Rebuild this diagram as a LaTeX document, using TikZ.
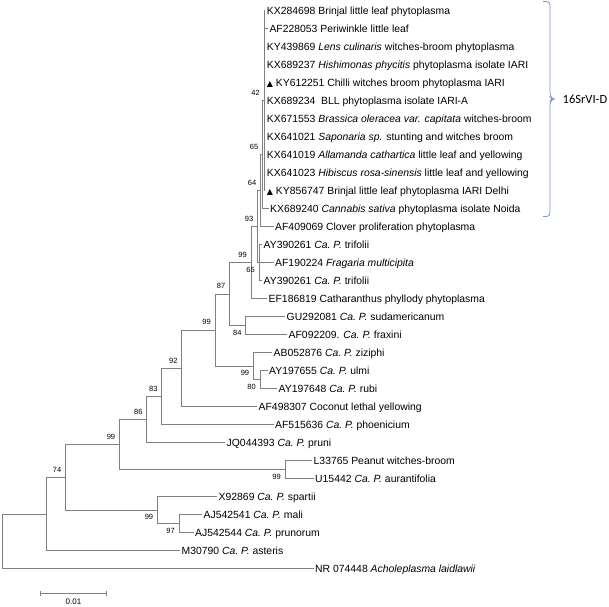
\documentclass[tikz,border=0pt]{standalone}
\usepackage{fontspec}
\setmainfont{Liberation Sans}
\newfontfamily\cladefont{Carlito}
\newfontfamily\symfont{DejaVu Sans}
\usepackage{tikz}
\usetikzlibrary{arrows.meta}
\definecolor{treegray}{RGB}{128,128,128}
\definecolor{cladeblue}{RGB}{122,150,200}
\newcommand{\leaffont}{\fontsize{10.4}{12}\selectfont}
\newcommand{\bootfont}{\fontsize{7.5}{9}\selectfont}
\newcommand{\tri}{{\symfont\fontsize{8}{9}\selectfont ▲}}
\newcommand{\caP}{\textit{Ca.\ P.}}

\begin{document}
\begin{tikzpicture}[x=1pt, y=-1pt,
    leaf/.style={anchor=west, inner xsep=1.5pt, inner ysep=0pt,
                 text height=7.4pt, text depth=0pt, font=\leaffont},
    br/.style={draw=treegray, line width=0.7pt},
    bsa/.style={anchor=south east, inner sep=0pt, xshift=-4pt, yshift=4.8pt, font=\bootfont},
    bsb/.style={anchor=north east, inner sep=0pt, xshift=-4pt, yshift=-4.3pt, font=\bootfont},
    clade/.style={draw=cladeblue, line width=0.8pt}
  ]
    \useasboundingbox (0,0) rectangle (609,606);

    \node[leaf] (l1)  at (265.2,10.5)  {KX284698 Brinjal little leaf phytoplasma};
    \node[leaf] (l2)  at (267.8,28.5)  {AF228053 Periwinkle little leaf};
    \node[leaf] (l3)  at (265.2,46.5)  {KY439869 \textit{Lens culinaris} witches-broom phytoplasma};
    \node[leaf] (l4)  at (265.2,64.5)  {KX689237 \textit{Hishimonas phycitis} phytoplasma isolate IARI};
    \node[leaf] (l5)  at (265.2,82.5)  {\tri\ KY612251 Chilli witches broom phytoplasma IARI};
    \node[leaf] (l6)  at (265.2,100.5) {KX689234\ \ BLL phytoplasma isolate IARI-A};
    \node[leaf] (l7)  at (265.2,118.5) {KX671553 \textit{Brassica oleracea var. capitata} witches-broom};
    \node[leaf] (l8)  at (265.2,136.5) {KX641021 \textit{Saponaria sp.} stunting and witches broom};
    \node[leaf] (l9)  at (265.2,154.5) {KX641019 \textit{Allamanda cathartica} little leaf and yellowing};
    \node[leaf] (l10) at (265.2,172.5) {KX641023 \textit{Hibiscus rosa-sinensis} little leaf and yellowing};
    \node[leaf] (l11) at (265.2,190.5) {\tri\ KY856747 Brinjal little leaf phytoplasma IARI Delhi};
    \node[leaf] (l12) at (268.5,208.5) {KX689240 \textit{Cannabis sativa} phytoplasma isolate Noida};
    \node[leaf] (l13) at (273.5,226.5) {AF409069 Clover proliferation phytoplasma};
    \node[leaf] (l14) at (262,244.5)   {AY390261 \caP\ trifolii};
    \node[leaf] (l15) at (273.5,262.5) {AF190224 \textit{Fragaria multicipita}};
    \node[leaf] (l16) at (262,280.5)   {AY390261 \caP\ trifolii};
    \node[leaf] (l17) at (267,298.5)   {EF186819 Catharanthus phyllody phytoplasma};
    \node[leaf] (l18) at (285,316.5)   {GU292081 \caP\ sudamericanum};
    \node[leaf] (l19) at (287,334.5)   {AF092209. \caP\ fraxini};
    \node[leaf] (l20) at (272,352.5)   {AB052876 \caP\ ziziphi};
    \node[leaf] (l21) at (267.5,370.5) {AY197655 \caP\ ulmi};
    \node[leaf] (l22) at (277,388.5)   {AY197648 \caP\ rubi};
    \node[leaf] (l23) at (257,406.5)   {AF498307 Coconut lethal yellowing};
    \node[leaf] (l24) at (273.5,424.5) {AF515636 \caP\ phoenicium};
    \node[leaf] (l25) at (225,442.5)   {JQ044393 \caP\ pruni};
    \node[leaf] (l26) at (312,460.5)   {L33765 Peanut witches-broom};
    \node[leaf] (l27) at (313.5,478.5) {U15442 \caP\ aurantifolia};
    \node[leaf] (l28) at (217,496.5)   {X92869 \caP\ spartii};
    \node[leaf] (l29) at (202,514.5)   {AJ542541 \caP\ mali};
    \node[leaf] (l30) at (193.5,532.5) {AJ542544 \caP\ prunorum};
    \node[leaf] (l31) at (180,550.5)   {M30790 \caP\ asteris};
    \node[leaf] (l32) at (313.5,568.5) {NR 074448 \textit{Acholeplasma laidlawii}};

    \coordinate (n42)  at (264,100.5);
    \coordinate (n65)  at (262.5,154.5);
    \coordinate (n64)  at (260.5,190.5);
    \coordinate (n65t) at (259,262.5);
    \coordinate (n93)  at (257.5,226.5);
    \coordinate (n99a) at (251,262.5);
    \coordinate (n84)  at (245.7,325.5);
    \coordinate (n87)  at (229.5,294);
    \coordinate (n80)  at (260,379.5);
    \coordinate (n99c) at (253.3,366);
    \coordinate (n99b) at (215,330);
    \coordinate (n92)  at (181.7,368.25);
    \coordinate (n83)  at (161.7,396.4);
    \coordinate (n86)  at (146.7,419.4);
    \coordinate (n99e) at (285,469.5);
    \coordinate (n99d) at (119.3,444.5);
    \coordinate (n97)  at (179,523.5);
    \coordinate (n99f) at (157.3,510);
    \coordinate (n74)  at (65.5,477.2);
    \coordinate (nin)  at (46,513.9);
    \coordinate (root) at (2,541.2);

    \draw[br] (n42) |- (l1) (n42) |- (l2) (n42) |- (l3) (n42) |- (l4) (n42) |- (l5) (n42) |- (l6)
              (n42) |- (l7) (n42) |- (l8) (n42) |- (l9) (n42) |- (l10) (n42) |- (l11);
    \draw[br] (n65) |- (n42) (n65) |- (l12);
    \draw[br] (n64) |- (n65) (n64) |- (l13);
    \draw[br] (n65t) |- (l14) (n65t) |- (l15) (n65t) |- (l16);
    \draw[br] (n93) |- (n64) (n93) |- (n65t);
    \draw[br] (n99a) |- (n93) (n99a) |- (l17);
    \draw[br] (n84) |- (l18) (n84) |- (l19);
    \draw[br] (n87) |- (n99a) (n87) |- (n84);
    \draw[br] (n80) |- (l21) (n80) |- (l22);
    \draw[br] (n99c) |- (l20) (n99c) |- (n80);
    \draw[br] (n99b) |- (n87) (n99b) |- (n99c);
    \draw[br] (n92) |- (n99b) (n92) |- (l23);
    \draw[br] (n83) |- (n92) (n83) |- (l24);
    \draw[br] (n86) |- (n83) (n86) |- (l25);
    \draw[br] (n99e) |- (l26) (n99e) |- (l27);
    \draw[br] (n99d) |- (n86) (n99d) |- (n99e);
    \draw[br] (n97) |- (l29) (n97) |- (l30);
    \draw[br] (n99f) |- (l28) (n99f) |- (n97);
    \draw[br] (n74) |- (n99d) (n74) |- (n99f);
    \draw[br] (nin) |- (n74) (nin) |- (l31);
    \draw[br] (root) |- (nin) (root) |- (l32);

    \node[bsa] (b42)  at (n42)  {42};
    \node[bsa] (b65)  at (n65)  {65};
    \node[bsa] (b64)  at (n64)  {64};
    \node[bsa] (b93)  at (n93)  {93};
    \node[bsa] (b99a) at (n99a) {99};
    \node[bsb] (b65t) at (n65t) {65};
    \node[bsa] (b87)  at (n87)  {87};
    \node[bsb] (b84)  at (n84)  {84};
    \node[bsa] (b99b) at (n99b) {99};
    \node[bsb] (b99c) at (n99c) {99};
    \node[bsb] (b80)  at (n80)  {80};
    \node[bsa] (b92)  at (n92)  {92};
    \node[bsa] (b83)  at (n83)  {83};
    \node[bsa] (b86)  at (n86)  {86};
    \node[bsa] (b99d) at (n99d) {99};
    \node[bsb] (b99e) at (n99e) {99};
    \node[bsa] (b74)  at (n74)  {74};
    \node[bsb] (b99f) at (n99f) {99};
    \node[bsb] (b97)  at (n97)  {97};

    \coordinate (s0) at (40,593);
    \coordinate (s1) at (107,593);
    \draw[br, {Bar[width=5pt]}-{Bar[width=5pt]}] (s0) -- (s1);
    \node[inner sep=0pt, font=\fontsize{8}{9}\selectfont] (sl) at (73.5,601.5) {0.01};

    \draw[clade, rounded corners=3.5pt] (543,1.5) -- (550,1.5) -- (550,97) -- (553.5,99)
          -- (550,101) -- (550,216.5) -- (543,216.5);
    \node[anchor=west, inner sep=0pt, font=\cladefont\fontsize{12.5}{14}\selectfont] (grp)
          at (562.5,99) {16SrVI-D};
  \end{tikzpicture}
\end{document}
